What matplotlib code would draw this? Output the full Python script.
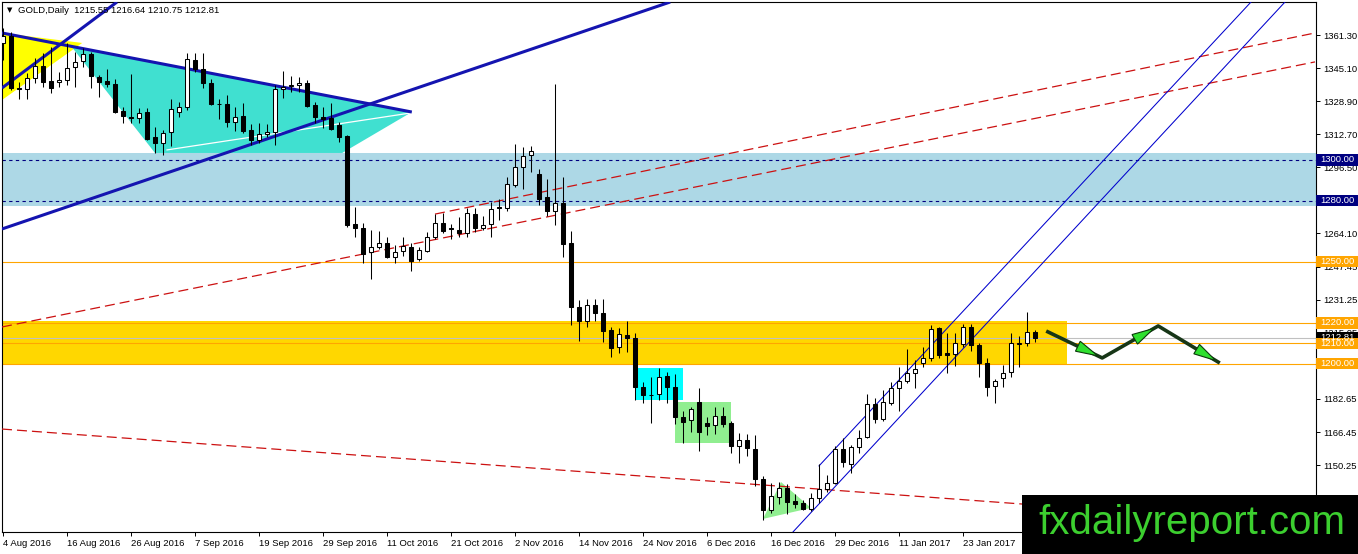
import matplotlib
matplotlib.use("Agg")
import matplotlib.pyplot as plt
from matplotlib.patches import Rectangle, Polygon
from matplotlib.transforms import blended_transform_factory
import numpy as np

plt.rcParams['font.family'] = ['Liberation Sans', 'DejaVu Sans']

# ---------------- data (GOLD daily, 4 Aug 2016 .. 3 Feb 2017) ----------------
opens = [1357.4, 1360.8, 1335.3, 1334.8, 1340.2, 1346.1, 1338.7, 1338.2, 1339.2, 1345.6,
         1348.5, 1352.0, 1340.7, 1338.7, 1337.3, 1324.0, 1321.1, 1320.6, 1323.5, 1311.2,
         1308.3, 1313.7, 1323.5, 1326.0, 1349.0, 1344.6, 1337.7, 1327.4, 1327.4, 1318.6,
         1321.5, 1314.7, 1309.8, 1312.7, 1313.7, 1334.8, 1336.5, 1336.8, 1337.7, 1327.0,
         1321.1, 1320.6, 1317.1, 1311.7, 1268.5, 1266.6, 1254.8, 1257.3, 1259.2, 1252.3,
         1255.3, 1257.3, 1251.4, 1255.3, 1262.2, 1269.0, 1266.6, 1265.6, 1264.1, 1273.4,
         1266.6, 1268.5, 1276.9, 1276.4, 1287.7, 1296.5, 1302.4, 1293.1, 1281.8, 1274.9,
         1278.9, 1259.2, 1227.8, 1220.9, 1228.8, 1224.9, 1216.5, 1208.2, 1214.1, 1212.6,
         1188.5, 1184.6, 1185.1, 1193.9, 1188.5, 1173.8, 1172.3, 1181.2, 1170.9, 1169.9,
         1174.3, 1170.9, 1159.6, 1162.5, 1158.1, 1143.4, 1128.2, 1134.6, 1139.0, 1132.6,
         1131.6, 1128.7, 1134.1, 1138.5, 1141.4, 1158.1, 1150.8, 1159.1, 1164.0, 1180.2,
         1172.8, 1180.7, 1188.1, 1191.5, 1195.4, 1200.3, 1202.8, 1217.5, 1205.2, 1204.7,
         1209.6, 1218.0, 1209.2, 1200.3, 1189.0, 1193.0, 1195.9, 1209.6, 1210.1, 1215.55]
highs = [1364.7, 1362.8, 1338.2, 1342.7, 1350.0, 1352.5, 1355.4, 1343.1, 1357.4, 1353.0,
         1354.9, 1353.0, 1341.7, 1344.6, 1339.7, 1326.0, 1342.2, 1325.5, 1325.5, 1316.1,
         1314.7, 1329.9, 1328.4, 1352.5, 1352.5, 1352.5, 1339.7, 1329.9, 1331.9, 1326.0,
         1327.9, 1317.6, 1318.1, 1317.6, 1336.8, 1343.6, 1341.2, 1340.7, 1339.2, 1328.4,
         1326.0, 1327.9, 1318.6, 1312.2, 1276.9, 1269.0, 1265.6, 1265.1, 1262.2, 1258.2,
         1262.2, 1259.2, 1257.3, 1264.6, 1273.4, 1273.9, 1268.5, 1272.0, 1276.4, 1276.4,
         1272.5, 1279.3, 1280.8, 1291.6, 1307.8, 1306.3, 1306.8, 1295.5, 1290.6, 1337.3,
         1291.6, 1265.1, 1231.2, 1231.7, 1231.7, 1231.7, 1218.0, 1217.5, 1220.9, 1215.0,
         1191.0, 1193.5, 1197.9, 1195.9, 1194.9, 1176.8, 1178.7, 1188.1, 1173.8, 1178.7,
         1178.7, 1171.9, 1166.0, 1165.5, 1165.0, 1144.9, 1141.4, 1141.9, 1140.9, 1136.0,
         1133.1, 1136.5, 1150.8, 1145.4, 1159.6, 1163.5, 1160.1, 1167.4, 1185.1, 1183.1,
         1187.1, 1191.0, 1198.4, 1207.2, 1201.8, 1208.2, 1219.0, 1218.0, 1215.0, 1215.0,
         1219.5, 1219.5, 1210.1, 1202.8, 1192.5, 1199.3, 1215.0, 1213.6, 1225.4, 1216.64]
lows = [1349.0, 1334.3, 1329.9, 1329.9, 1337.7, 1335.8, 1332.8, 1335.8, 1336.8, 1335.8,
        1345.6, 1335.3, 1330.9, 1335.8, 1323.0, 1318.1, 1318.1, 1318.1, 1309.8, 1303.4,
        1302.4, 1306.8, 1321.1, 1324.5, 1343.1, 1335.3, 1327.0, 1320.1, 1316.1, 1314.2,
        1313.2, 1307.3, 1308.3, 1311.2, 1307.3, 1330.4, 1333.3, 1333.3, 1326.0, 1318.1,
        1315.7, 1314.7, 1308.8, 1267.1, 1262.2, 1249.4, 1241.5, 1256.3, 1252.0, 1249.4,
        1252.8, 1245.5, 1250.4, 1254.8, 1261.2, 1264.1, 1261.2, 1262.2, 1262.2, 1264.6,
        1265.6, 1262.2, 1270.5, 1274.9, 1286.7, 1285.7, 1294.1, 1277.9, 1272.5, 1268.0,
        1252.3, 1219.0, 1211.1, 1218.0, 1220.9, 1210.6, 1203.3, 1205.2, 1205.7, 1182.2,
        1180.7, 1170.9, 1182.2, 1180.7, 1170.4, 1161.1, 1166.5, 1157.1, 1165.0, 1165.5,
        1168.9, 1156.1, 1151.2, 1154.7, 1140.0, 1123.3, 1126.7, 1131.1, 1126.2, 1129.2,
        1128.2, 1127.7, 1131.6, 1137.0, 1140.9, 1149.3, 1146.3, 1156.1, 1163.5, 1170.9,
        1171.9, 1179.7, 1176.8, 1190.5, 1188.1, 1198.4, 1201.3, 1202.8, 1195.4, 1198.9,
        1208.2, 1206.2, 1193.5, 1184.1, 1180.7, 1188.5, 1193.5, 1198.4, 1208.7, 1210.75]
closes = [1360.8, 1335.3, 1334.8, 1340.2, 1346.1, 1338.2, 1335.3, 1339.2, 1345.1, 1348.1,
          1352.0, 1341.2, 1338.2, 1337.3, 1323.5, 1321.5, 1320.8, 1323.0, 1310.3, 1308.3,
          1313.2, 1325.0, 1326.0, 1349.5, 1344.6, 1337.7, 1327.4, 1327.2, 1318.6, 1321.1,
          1314.2, 1309.8, 1312.7, 1313.7, 1334.8, 1335.8, 1336.8, 1337.7, 1326.5, 1321.1,
          1320.1, 1315.2, 1311.2, 1268.0, 1266.6, 1253.8, 1257.3, 1259.2, 1252.3, 1254.8,
          1257.7, 1250.4, 1255.8, 1262.2, 1269.0, 1265.1, 1266.3, 1264.1, 1273.9, 1266.6,
          1268.0, 1275.9, 1276.6, 1288.2, 1296.5, 1301.9, 1304.4, 1280.8, 1274.9, 1278.9,
          1258.7, 1227.8, 1220.9, 1228.8, 1224.9, 1216.0, 1207.7, 1214.6, 1212.6, 1188.5,
          1184.6, 1184.4, 1193.5, 1188.5, 1173.8, 1171.4, 1177.7, 1166.5, 1169.4, 1174.3,
          1170.4, 1159.6, 1162.5, 1158.6, 1143.4, 1128.2, 1135.0, 1139.0, 1132.1, 1131.1,
          1128.7, 1134.1, 1138.5, 1141.4, 1158.1, 1151.7, 1159.1, 1163.5, 1180.2, 1172.8,
          1181.2, 1188.1, 1191.5, 1195.4, 1197.4, 1202.8, 1217.0, 1204.2, 1204.2, 1210.1,
          1218.0, 1209.2, 1200.3, 1188.5, 1191.5, 1195.4, 1210.1, 1210.1, 1215.5, 1212.81]

date_positions = [0, 8, 16, 24, 32, 40, 48, 56, 64, 72, 80, 88, 96, 104, 112, 120]
date_labels = ["4 Aug 2016", "16 Aug 2016", "26 Aug 2016", "7 Sep 2016", "19 Sep 2016",
               "29 Sep 2016", "11 Oct 2016", "21 Oct 2016", "2 Nov 2016", "14 Nov 2016",
               "24 Nov 2016", "6 Dec 2016", "16 Dec 2016", "29 Dec 2016", "11 Jan 2017",
               "23 Jan 2017"]
price_ticks = [1361.30, 1345.10, 1328.90, 1312.70, 1296.50, 1280.30, 1264.10, 1247.45,
               1231.25, 1215.05, 1198.85, 1182.65, 1166.45, 1150.25, 1134.05]
# labels fully hidden behind the 1280.00 / 1200.00 price boxes are left blank
price_tick_labels = ["1361.30", "1345.10", "1328.90", "1312.70", "1296.50", "",
                     "1264.10", "1247.45", "1231.25", "1215.05", "", "1182.65",
                     "1166.45", "1150.25", "1134.05"]

header_text = "GOLD,Daily  1215.55 1216.64 1210.75 1212.81"
watermark = "fxdailyreport.com"

navy_levels = [1300.0, 1280.0]
orange_levels = [1250.0, 1220.0, 1210.0, 1200.0]
bid_price = 1212.81

# drawn objects (bar index, price)
blue_zone = [1277.4, 1303.4]
gold_zone = [1200.0, 1221.0]
gold_zone_end = 133.0
cyan_box = [79.1, 85.0, 1182.2, 1197.9]
green_box = [84.0, 91.0, 1161.1, 1181.2]
yellow_tri_x = [-0.125, 9.9, -0.125]
yellow_tri_y = [1362.3, 1357.4, 1329.4]
turq_x = [8.6, 51.1, 42.4, 19.0]
turq_y = [1355.4, 1323.5, 1303.4, 1303.4]
white_line_x = [20.5, 50.9]
white_line_y = [1304.9, 1323.0]
green_tri_x = [95.0, 97.25, 101.0]
green_tri_y = [1123.8, 1141.9, 1129.2]
thick_lines = [([-0.125, 51.1], [1362.3, 1323.5]),
               ([-0.125, 83.4], [1266.1, 1377.5]),
               ([-0.125, 14.25], [1335.3, 1377.5])]
channel_lines = [([102.0, 156.0], [1149.8, 1377.5]),
                 ([98.75, 160.25], [1117.4, 1377.5])]
red_lines = [([54.0, 164.0], [1273.4, 1362.3]),
             ([-0.125, 164.0], [1218.0, 1348.1]),
             ([-0.125, 127.4], [1167.9, 1131.1])]
zigzag_x = [130.4, 137.4, 144.4, 152.1]
zigzag_y = [1216.0, 1202.8, 1218.5, 1200.3]

FS = 6.8

# ---------------- figure ----------------
W, H = 1358, 554
fig = plt.figure(figsize=(W / 100, H / 100), dpi=100)
fig.patch.set_facecolor('white')
ax = fig.add_axes([2 / W, 22 / H, 1314 / W, 530 / H])
ax.set_xlim(-0.125, 164.125)
ax.set_ylim(1117.37, 1377.5)

# zones
ax.axhspan(blue_zone[0], blue_zone[1], color='#add8e6', lw=0, zorder=1)
ax.add_patch(Rectangle((-0.125, gold_zone[0]), gold_zone_end + 0.125, gold_zone[1] - gold_zone[0],
                       fc='#ffd700', ec='none', zorder=1))
ax.add_patch(Rectangle((cyan_box[0], cyan_box[2]), cyan_box[1] - cyan_box[0], cyan_box[3] - cyan_box[2],
                       fc='#00ffff', ec='none', zorder=1))
ax.add_patch(Rectangle((green_box[0], green_box[2]), green_box[1] - green_box[0], green_box[3] - green_box[2],
                       fc='#90ee90', ec='none', zorder=1))
ax.add_patch(Polygon(list(zip(yellow_tri_x, yellow_tri_y)), closed=True, fc='#ffff00', ec='none', zorder=1.5))
ax.add_patch(Polygon(list(zip(turq_x, turq_y)), closed=True, fc='#40e0d0', ec='none', zorder=1.6))
ax.add_patch(Polygon(list(zip(green_tri_x, green_tri_y)), closed=True, fc='#90ee90', ec='none', zorder=1.5))
ax.plot(white_line_x, white_line_y, color='white', lw=0.9, zorder=1.7)

# horizontal levels
for p in navy_levels:
    ax.axhline(p, color='#000080', lw=0.8, ls=(0, (3, 3)), zorder=2)
for p in orange_levels:
    ax.axhline(p, color='#ffa500', lw=0.8, zorder=2)
ax.axhline(bid_price, color='#c0c0c0', lw=0.8, zorder=2)

# trend lines
for xs, ys in red_lines:
    ax.plot(xs, ys, color='#cc1111', lw=0.9, dashes=(8, 4), zorder=3)
for xs, ys in channel_lines:
    ax.plot(xs, ys, color='#0000cd', lw=0.75, zorder=3)
for xs, ys in thick_lines:
    ax.plot(xs, ys, color='#1414b0', lw=2.2, zorder=3.5, solid_capstyle='butt')

# candles
n = len(opens)
xs = np.arange(n)
ax.vlines(xs, lows, highs, color='black', lw=0.75, zorder=5)
for i in range(n):
    o, c = opens[i], closes[i]
    bull = c >= o
    lo = min(o, c)
    h = max(abs(c - o), 0.05)
    ax.add_patch(Rectangle((i - 0.3, lo), 0.6, h, fc='white' if bull else 'black',
                           ec='black', lw=0.75, zorder=6))

# zigzag arrows
ax.plot(zigzag_x, zigzag_y, color='#173617', lw=2.6, zorder=7, solid_capstyle='butt')


def arrow_head(p0, p1, back=5.0, length=22.0, half=5.5):
    d0 = ax.transData.transform(p0)
    d1 = ax.transData.transform(p1)
    v = d1 - d0
    u = v / np.hypot(*v)
    nrm = np.array([-u[1], u[0]])
    tip = d1 - u * back
    base = tip - u * length
    pts = np.array([tip, base + nrm * half, base - nrm * half])
    pts = ax.transData.inverted().transform(pts)
    ax.add_patch(Polygon(pts, closed=True, fc='#2fe02f', ec='#0b3a0b', lw=0.8, zorder=8))


for k in range(len(zigzag_x) - 1):
    arrow_head((zigzag_x[k], zigzag_y[k]), (zigzag_x[k + 1], zigzag_y[k + 1]))

# axes styling
for s in ax.spines.values():
    s.set_color('black')
    s.set_linewidth(0.8)
ax.yaxis.tick_right()
ax.set_yticks(price_ticks)
ax.set_yticklabels(price_tick_labels)
ax.set_xticks(date_positions)
ax.set_xticklabels(date_labels)
for lbl in ax.get_xticklabels():
    lbl.set_ha('left')
ax.tick_params(axis='y', direction='out', length=3, width=0.7, labelsize=FS, pad=2)
ax.tick_params(axis='x', direction='out', length=3, width=0.7, labelsize=FS, pad=2)

# right-axis price boxes
trans = blended_transform_factory(ax.transAxes, ax.transData)
bw = 42 / 1314
bh = 5.6


def price_box(p, fc, label):
    ax.add_patch(Rectangle((1.0, p - bh / 2), bw, bh, transform=trans, fc=fc, ec='none',
                           clip_on=False, zorder=10))
    ax.text(1.0 + 4 / 1314, p, label, transform=trans, color='white', fontsize=FS,
            va='center', ha='left', clip_on=False, zorder=11)


price_box(bid_price, 'black', f"{bid_price:.2f}")
for p in navy_levels:
    price_box(p, '#000080', f"{p:.2f}")
for p in orange_levels:
    price_box(p, '#ffa500', f"{p:.2f}")

# header
fig.text(7 / W, 1 - 10.5 / H, '\u25bc', fontsize=5, family='DejaVu Sans', va='center', ha='left')
fig.text(18 / W, 1 - 10.5 / H, header_text, fontsize=FS, va='center', ha='left')

# watermark
fig.add_artist(Rectangle((1022 / W, 0), 336 / W, 59 / H, transform=fig.transFigure,
                         fc='black', ec='none', zorder=20))
fig.text(1038 / W, 20 / H, watermark, fontsize=29, color='#3ccf2f', va='baseline',
         ha='left', zorder=21)

fig.savefig('out.png', dpi=100, facecolor='white')
